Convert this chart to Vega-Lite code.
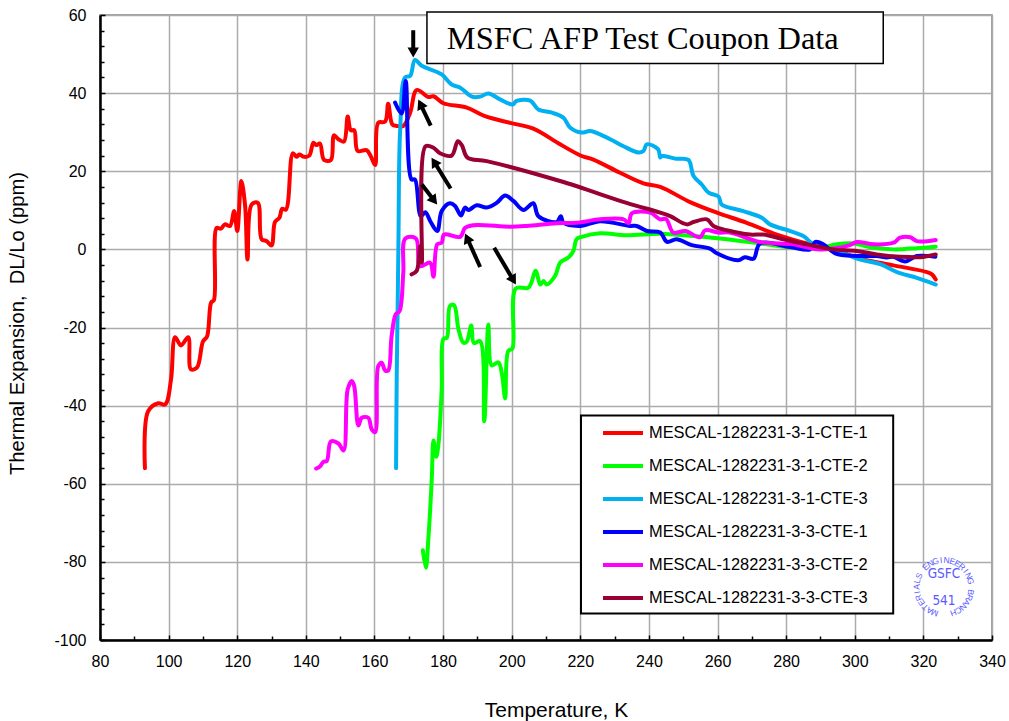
{"$schema":"https://vega.github.io/schema/vega-lite/v6.json","width":892,"height":625,"autosize":"none","padding":{"left":100,"top":15,"right":17,"bottom":81},"background":"white","config":{"font":"Liberation Sans","view":{"stroke":"#808080","strokeWidth":1.5}},"datasets":{"curves":[
{"s":"R","x":93.1,"y":-56},{"s":"R","x":94,"y":-41.5},{"s":"R","x":97,"y":-39.4},{"s":"R","x":99,"y":-39.7},{"s":"R","x":100.7,"y":-33.3},{"s":"R","x":101.9,"y":-22.5},{"s":"R","x":103.6,"y":-24.6},{"s":"R","x":105.7,"y":-22.5},{"s":"R","x":106.5,"y":-30.7},{"s":"R","x":108.3,"y":-30.2},{"s":"R","x":110,"y":-23.6},{"s":"R","x":111.2,"y":-22.3},{"s":"R","x":112.4,"y":-13.6},{"s":"R","x":113.2,"y":-13},{"s":"R","x":114,"y":5.5},{"s":"R","x":115.2,"y":5.3},{"s":"R","x":116.4,"y":6.4},{"s":"R","x":117.9,"y":6},{"s":"R","x":119.1,"y":9.8},{"s":"R","x":120,"y":4.7},{"s":"R","x":121.2,"y":17.5},{"s":"R","x":122.3,"y":11.1},{"s":"R","x":123,"y":-2.6},{"s":"R","x":124.2,"y":11.5},{"s":"R","x":126,"y":11.9},{"s":"R","x":127.1,"y":2.6},{"s":"R","x":128.6,"y":2.1},{"s":"R","x":130,"y":1},{"s":"R","x":131,"y":7},{"s":"R","x":132.3,"y":8.1},{"s":"R","x":133.1,"y":10.4},{"s":"R","x":134.2,"y":10.2},{"s":"R","x":136.2,"y":24.6},{"s":"R","x":137.3,"y":23.7},{"s":"R","x":138.1,"y":24.3},{"s":"R","x":139.5,"y":23.7},{"s":"R","x":141,"y":24},{"s":"R","x":142.2,"y":27.3},{"s":"R","x":143,"y":26.7},{"s":"R","x":144.1,"y":27.1},{"s":"R","x":145.3,"y":22.9},{"s":"R","x":147.3,"y":22.9},{"s":"R","x":148.2,"y":29.2},{"s":"R","x":149.5,"y":28.2},{"s":"R","x":151.1,"y":27.6},{"s":"R","x":152.2,"y":34},{"s":"R","x":153.1,"y":30.5},{"s":"R","x":154.1,"y":30.5},{"s":"R","x":155.1,"y":25.2},{"s":"R","x":157.7,"y":25.4},{"s":"R","x":158.9,"y":23.9},{"s":"R","x":160.2,"y":21.6},{"s":"R","x":161.1,"y":32.4},{"s":"R","x":163.1,"y":32.7},{"s":"R","x":164,"y":37.3},{"s":"R","x":165.2,"y":32},{"s":"R","x":166.5,"y":31.6},{"s":"R","x":168.4,"y":31.6},{"s":"R","x":170.4,"y":35},{"s":"R","x":172.3,"y":40.8},{"s":"R","x":175.7,"y":39},{"s":"R","x":177.2,"y":39.2},{"s":"R","x":180.1,"y":37.4},{"s":"R","x":186.9,"y":36.3},{"s":"R","x":192.2,"y":34.1},{"s":"R","x":199.5,"y":32.4},{"s":"R","x":206.3,"y":30.9},{"s":"R","x":214.1,"y":26.9},{"s":"R","x":220.4,"y":23.9},{"s":"R","x":223.8,"y":23},{"s":"R","x":231.6,"y":19.6},{"s":"R","x":238.4,"y":16.9},{"s":"R","x":243.3,"y":16},{"s":"R","x":252,"y":12.1},{"s":"R","x":259.8,"y":9.4},{"s":"R","x":268.5,"y":6.8},{"s":"R","x":277.3,"y":3.8},{"s":"R","x":287,"y":1.3},{"s":"R","x":293.7,"y":0},{"s":"R","x":301.6,"y":-2.4},{"s":"R","x":311.3,"y":-4.1},{"s":"R","x":321,"y":-5.8},{"s":"R","x":322.5,"y":-6.4},{"s":"R","x":323.6,"y":-7.7},
{"s":"G","x":174.1,"y":-77},{"s":"G","x":175,"y":-81.5},{"s":"G","x":175.7,"y":-74.2},{"s":"G","x":176.7,"y":-58.9},{"s":"G","x":177.2,"y":-48.9},{"s":"G","x":178,"y":-53.1},{"s":"G","x":178.6,"y":-50.3},{"s":"G","x":179.6,"y":-35.8},{"s":"G","x":180.1,"y":-22.9},{"s":"G","x":181.1,"y":-22.6},{"s":"G","x":182,"y":-14.5},{"s":"G","x":183.2,"y":-14.3},{"s":"G","x":184.5,"y":-20.5},{"s":"G","x":185.9,"y":-23.9},{"s":"G","x":186.9,"y":-23.6},{"s":"G","x":188.2,"y":-19.5},{"s":"G","x":189,"y":-24},{"s":"G","x":190.8,"y":-23.5},{"s":"G","x":192,"y":-44},{"s":"G","x":193.2,"y":-19.2},{"s":"G","x":194.2,"y":-29.7},{"s":"G","x":196.1,"y":-28.9},{"s":"G","x":197.1,"y":-31.6},{"s":"G","x":198.1,"y":-38.2},{"s":"G","x":199,"y":-26},{"s":"G","x":200.2,"y":-25.4},{"s":"G","x":201.2,"y":-10},{"s":"G","x":204.9,"y":-9.8},{"s":"G","x":207,"y":-5.5},{"s":"G","x":208.3,"y":-9},{"s":"G","x":209.3,"y":-8.1},{"s":"G","x":210.2,"y":-9},{"s":"G","x":212.7,"y":-6.7},{"s":"G","x":214.1,"y":-3.4},{"s":"G","x":216.5,"y":-2.1},{"s":"G","x":218,"y":-0.4},{"s":"G","x":218.9,"y":2.6},{"s":"G","x":220.4,"y":3.2},{"s":"G","x":225.8,"y":4.1},{"s":"G","x":233.5,"y":3.6},{"s":"G","x":243.3,"y":4},{"s":"G","x":252.9,"y":3.4},{"s":"G","x":262.7,"y":2.6},{"s":"G","x":272.4,"y":1.5},{"s":"G","x":282,"y":0.4},{"s":"G","x":289.9,"y":0.4},{"s":"G","x":294.8,"y":1.3},{"s":"G","x":299.6,"y":1.5},{"s":"G","x":305.4,"y":0.4},{"s":"G","x":311.3,"y":0},{"s":"G","x":318.1,"y":0.3},{"s":"G","x":323.6,"y":0.7},
{"s":"C","x":166.3,"y":-56},{"s":"C","x":166.5,"y":-31.6},{"s":"C","x":166.8,"y":-12},{"s":"C","x":167,"y":2.6},{"s":"C","x":167.5,"y":30.7},{"s":"C","x":168.9,"y":44},{"s":"C","x":170.4,"y":44.4},{"s":"C","x":171.8,"y":48.5},{"s":"C","x":173.8,"y":47},{"s":"C","x":179.6,"y":44.8},{"s":"C","x":182.5,"y":42.2},{"s":"C","x":185,"y":41.4},{"s":"C","x":188.4,"y":39.1},{"s":"C","x":190.8,"y":39.1},{"s":"C","x":193.2,"y":39.9},{"s":"C","x":196.6,"y":38.4},{"s":"C","x":200.3,"y":37.1},{"s":"C","x":201.4,"y":38},{"s":"C","x":205.4,"y":38.1},{"s":"C","x":207.8,"y":35.8},{"s":"C","x":211.7,"y":35},{"s":"C","x":215.1,"y":33.7},{"s":"C","x":217,"y":31.2},{"s":"C","x":220.4,"y":29.9},{"s":"C","x":222.9,"y":30.3},{"s":"C","x":228.7,"y":28.2},{"s":"C","x":232.6,"y":26.4},{"s":"C","x":236.9,"y":24.8},{"s":"C","x":238.4,"y":25.2},{"s":"C","x":239.4,"y":26.9},{"s":"C","x":242.7,"y":25.6},{"s":"C","x":243.3,"y":23.5},{"s":"C","x":243.8,"y":23.9},{"s":"C","x":248,"y":23.2},{"s":"C","x":251.5,"y":22.9},{"s":"C","x":253,"y":18.8},{"s":"C","x":255.4,"y":16.6},{"s":"C","x":257.4,"y":14.5},{"s":"C","x":260.3,"y":13.5},{"s":"C","x":261.2,"y":11.5},{"s":"C","x":267.5,"y":9.8},{"s":"C","x":272.9,"y":8.1},{"s":"C","x":275.3,"y":6.4},{"s":"C","x":281.2,"y":4.7},{"s":"C","x":285,"y":3.4},{"s":"C","x":288.5,"y":0.9},{"s":"C","x":293.7,"y":0},{"s":"C","x":301.6,"y":-2.6},{"s":"C","x":307.4,"y":-3.8},{"s":"C","x":312.3,"y":-5.8},{"s":"C","x":318.1,"y":-7.3},{"s":"C","x":323.6,"y":-9},
{"s":"B","x":166,"y":37.6},{"s":"B","x":167.9,"y":34.8},{"s":"B","x":169.1,"y":43.1},{"s":"B","x":170.8,"y":17.9},{"s":"B","x":171.8,"y":17.9},{"s":"B","x":173.5,"y":8.5},{"s":"B","x":174.8,"y":9.5},{"s":"B","x":176.4,"y":7},{"s":"B","x":178.3,"y":4.7},{"s":"B","x":179.6,"y":9.8},{"s":"B","x":182,"y":11.8},{"s":"B","x":183.5,"y":11.1},{"s":"B","x":185.2,"y":8.7},{"s":"B","x":186.4,"y":10.7},{"s":"B","x":187.4,"y":10.1},{"s":"B","x":189.8,"y":11.3},{"s":"B","x":192.7,"y":10.7},{"s":"B","x":195.6,"y":11.9},{"s":"B","x":198.1,"y":13.8},{"s":"B","x":200.5,"y":12.4},{"s":"B","x":203.4,"y":10.1},{"s":"B","x":206.3,"y":11.8},{"s":"B","x":207.8,"y":8.5},{"s":"B","x":213.1,"y":7},{"s":"B","x":214.3,"y":8.5},{"s":"B","x":215.1,"y":6.8},{"s":"B","x":220,"y":6},{"s":"B","x":225.8,"y":7.2},{"s":"B","x":234.5,"y":6},{"s":"B","x":236.4,"y":6},{"s":"B","x":239.4,"y":4.7},{"s":"B","x":243.3,"y":4.3},{"s":"B","x":245.3,"y":1.9},{"s":"B","x":248,"y":2.6},{"s":"B","x":252.5,"y":1.1},{"s":"B","x":257.8,"y":0.2},{"s":"B","x":259.8,"y":-1},{"s":"B","x":266,"y":-2.8},{"s":"B","x":268,"y":-2},{"s":"B","x":270.5,"y":-2.4},{"s":"B","x":272.4,"y":1.5},{"s":"B","x":281.2,"y":0.6},{"s":"B","x":287,"y":0},{"s":"B","x":288.5,"y":1.9},{"s":"B","x":290.8,"y":1.3},{"s":"B","x":294.3,"y":-1},{"s":"B","x":300.6,"y":-1.7},{"s":"B","x":306.4,"y":-1.7},{"s":"B","x":309.3,"y":-2.1},{"s":"B","x":311.2,"y":-1.9},{"s":"B","x":314.7,"y":-3.1},{"s":"B","x":318.1,"y":-1.7},{"s":"B","x":323.5,"y":-1.9},
{"s":"M","x":143,"y":-56.1},{"s":"M","x":144.1,"y":-55.6},{"s":"M","x":145.1,"y":-54.4},{"s":"M","x":146.1,"y":-54.2},{"s":"M","x":147.3,"y":-49.2},{"s":"M","x":149.5,"y":-49.7},{"s":"M","x":151,"y":-51.5},{"s":"M","x":152.2,"y":-35.8},{"s":"M","x":153.4,"y":-33.7},{"s":"M","x":154.1,"y":-35},{"s":"M","x":155.3,"y":-45.1},{"s":"M","x":156.3,"y":-43.1},{"s":"M","x":158.2,"y":-43.1},{"s":"M","x":159.2,"y":-46.1},{"s":"M","x":160.2,"y":-46.8},{"s":"M","x":161.1,"y":-29.9},{"s":"M","x":162.1,"y":-29},{"s":"M","x":163.1,"y":-31},{"s":"M","x":164,"y":-31},{"s":"M","x":165,"y":-22.2},{"s":"M","x":166.2,"y":-16.6},{"s":"M","x":167.3,"y":-15.8},{"s":"M","x":168.4,"y":-6},{"s":"M","x":169,"y":2.8},{"s":"M","x":172.1,"y":2.8},{"s":"M","x":173.3,"y":-4.3},{"s":"M","x":176.2,"y":-3.4},{"s":"M","x":177.2,"y":-7},{"s":"M","x":178.3,"y":1.3},{"s":"M","x":179.6,"y":1.7},{"s":"M","x":180.3,"y":3.8},{"s":"M","x":185,"y":3.2},{"s":"M","x":186.4,"y":5.5},{"s":"M","x":188.8,"y":6.2},{"s":"M","x":199.5,"y":5.8},{"s":"M","x":204.4,"y":6},{"s":"M","x":213.1,"y":6.7},{"s":"M","x":218.9,"y":6.8},{"s":"M","x":225.8,"y":7.7},{"s":"M","x":232.6,"y":7.7},{"s":"M","x":234.1,"y":6.7},{"s":"M","x":235,"y":9.2},{"s":"M","x":240.4,"y":9.4},{"s":"M","x":243.3,"y":7.7},{"s":"M","x":245,"y":7.8},{"s":"M","x":247.1,"y":4.3},{"s":"M","x":250.6,"y":4.7},{"s":"M","x":254.9,"y":3.1},{"s":"M","x":256.4,"y":4.9},{"s":"M","x":260.3,"y":4.3},{"s":"M","x":263.6,"y":4.3},{"s":"M","x":272.4,"y":1.9},{"s":"M","x":282,"y":1.3},{"s":"M","x":289,"y":0},{"s":"M","x":293.7,"y":0.2},{"s":"M","x":298.6,"y":1.1},{"s":"M","x":300.6,"y":1.9},{"s":"M","x":305.5,"y":1.3},{"s":"M","x":311.3,"y":1.7},{"s":"M","x":313.2,"y":3},{"s":"M","x":316.2,"y":3.1},{"s":"M","x":318.1,"y":2.1},{"s":"M","x":323.6,"y":2.4},
{"s":"D","x":170.8,"y":-6.4},{"s":"D","x":172.3,"y":-5.5},{"s":"D","x":173.3,"y":0.8},{"s":"D","x":173.8,"y":-3.4},{"s":"D","x":174.9,"y":26.4},{"s":"D","x":177.2,"y":26},{"s":"D","x":179.1,"y":24.6},{"s":"D","x":182.5,"y":24},{"s":"D","x":184.3,"y":27.7},{"s":"D","x":185.5,"y":26.6},{"s":"D","x":187.1,"y":23.5},{"s":"D","x":192.7,"y":22.6},{"s":"D","x":214.1,"y":17.5},{"s":"D","x":233.5,"y":11.9},{"s":"D","x":243.3,"y":9.4},{"s":"D","x":246.2,"y":8.5},{"s":"D","x":251,"y":6.4},{"s":"D","x":253,"y":7},{"s":"D","x":256.9,"y":7.7},{"s":"D","x":258.8,"y":6},{"s":"D","x":262.7,"y":4.9},{"s":"D","x":269.5,"y":3.8},{"s":"D","x":273.4,"y":3.8},{"s":"D","x":279.2,"y":2.6},{"s":"D","x":287,"y":1.1},{"s":"D","x":293.7,"y":0},{"s":"D","x":300.6,"y":-0.4},{"s":"D","x":306.4,"y":-1.3},{"s":"D","x":313.2,"y":-1.9},{"s":"D","x":319,"y":-2},{"s":"D","x":323.6,"y":-1.3}
],"names":[{"s":"R","n":"MESCAL-1282231-3-1-CTE-1"},{"s":"G","n":"MESCAL-1282231-3-1-CTE-2"},{"s":"C","n":"MESCAL-1282231-3-1-CTE-3"},{"s":"B","n":"MESCAL-1282231-3-3-CTE-1"},{"s":"M","n":"MESCAL-1282231-3-3-CTE-2"},{"s":"D","n":"MESCAL-1282231-3-3-CTE-3"}],
"arrows":[{"x":171.3,"y":56.1,"hx":171.3,"hy":50.4,"heading":180},{"x":176.4,"y":31.7,"hx":173.4,"hy":37.2,"heading":334.5},{"x":182.2,"y":15.6,"hx":177.4,"hy":22.4,"heading":328},{"x":173.8,"y":16.6,"hx":177.4,"hy":12.5,"heading":142},{"x":190.8,"y":-4.5,"hx":187,"hy":2.9,"heading":336},{"x":194.9,"y":0.4,"hx":200.5,"hy":-7.9,"heading":149.4}],
"stampChars":[{"c":"M","x":323.26,"y":-93.08,"a":-160},{"c":"A","x":321.78,"y":-92.45,"a":-148.15},{"c":"T","x":320.47,"y":-91.56,"a":-136.3},{"c":"E","x":319.4,"y":-90.46,"a":-124.45},{"c":"R","x":318.62,"y":-89.19,"a":-112.6},{"c":"I","x":318.14,"y":-87.81,"a":-100.75},{"c":"A","x":318,"y":-86.37,"a":-88.9},{"c":"L","x":318.2,"y":-84.93,"a":-77.05},{"c":"S","x":318.74,"y":-83.57,"a":-65.2},{"c":"E","x":320.68,"y":-81.27,"a":-41.65},{"c":"N","x":322.02,"y":-80.42,"a":-29.8},{"c":"G","x":323.54,"y":-79.84,"a":-17.95},{"c":"I","x":325.15,"y":-79.54,"a":-6.1},{"c":"N","x":326.8,"y":-79.53,"a":5.75},{"c":"E","x":328.42,"y":-79.83,"a":17.6},{"c":"E","x":329.94,"y":-80.4,"a":29.45},{"c":"R","x":331.28,"y":-81.24,"a":41.3},{"c":"I","x":332.4,"y":-82.3,"a":53.15},{"c":"N","x":333.25,"y":-83.54,"a":65},{"c":"G","x":333.79,"y":-84.91,"a":76.85},{"c":"B","x":333.86,"y":-87.77,"a":100.5},{"c":"R","x":333.4,"y":-89.16,"a":112.35},{"c":"A","x":332.62,"y":-90.43,"a":124.2},{"c":"N","x":331.56,"y":-91.53,"a":136},{"c":"C","x":330.25,"y":-92.43,"a":147.9},{"c":"H","x":328.78,"y":-93.07,"a":159.7}]},
"layer":[
{"data":{"name":"curves"},"transform":[{"lookup":"s","from":{"data":{"name":"names"},"key":"s","fields":["n"]}}],"mark":{"type":"line","strokeWidth":4,"strokeCap":"round","strokeJoin":"round","clip":false,"interpolate":"catmull-rom"},"encoding":{
"x":{"field":"x","type":"quantitative","scale":{"domain":[80,340],"nice":false,"zero":false},"axis":{"title":"Temperature, K","titleFontSize":21,"titleFontWeight":"normal","titleColor":"#000","titleY":59,"titleX":456,"tickCount":100,"values":[80,90,100,110,120,130,140,150,160,170,180,190,200,210,220,230,240,250,260,270,280,290,300,310,320,330,340],"labelExpr":"datum.value % 20 === 0 ? datum.label : ''","labelFontSize":16,"labelColor":"#000","labelPadding":18,"labelOverlap":false,"labelFlush":false,"domainColor":"#000","domainWidth":2.5,"tickColor":"#000","tickWidth":1.5,"tickSize":{"condition":{"test":"datum.value % 20 === 0","value":-5},"value":-4},"tickCap":"butt","grid":true,"gridColor":"#ababab","gridWidth":1.5,"gridOpacity":{"condition":{"test":"datum.value % 20 === 0","value":1},"value":0}}},
"y":{"field":"y","type":"quantitative","scale":{"domain":[-100,60],"nice":false,"zero":false},"axis":{"title":"Thermal Expansion,\u00a0 DL/Lo (ppm)","titleFontSize":20.2,"titleFontWeight":"normal","titleColor":"#000","titleX":-73,"titleY":308,"tickCount":100,"values":[-100,-96,-92,-88,-84,-80,-76,-72,-68,-64,-60,-56,-52,-48,-44,-40,-36,-32,-28,-24,-20,-16,-12,-8,-4,0,4,8,12,16,20,24,28,32,36,40,44,48,52,56,60],"labelExpr":"datum.value % 20 === 0 ? '' + datum.value : ''","labelFontSize":16,"labelColor":"#000","labelPadding":19,"labelOverlap":false,"domainColor":"#000","domainWidth":2.5,"tickColor":"#000","tickWidth":1.5,"tickSize":{"condition":{"test":"datum.value % 20 === 0","value":-5},"value":-4},"grid":true,"gridColor":"#ababab","gridWidth":1.5,"gridOpacity":{"condition":{"test":"datum.value % 20 === 0","value":1},"value":0}}},
"color":{"field":"n","type":"nominal","scale":{"domain":["MESCAL-1282231-3-1-CTE-1","MESCAL-1282231-3-1-CTE-2","MESCAL-1282231-3-1-CTE-3","MESCAL-1282231-3-3-CTE-1","MESCAL-1282231-3-3-CTE-2","MESCAL-1282231-3-3-CTE-3"],"range":["#ff0000","#00ff00","#00b0f0","#0000ff","#ff00ff","#990033"]},"legend":{"title":null,"orient":"none","legendX":481,"legendY":400,"symbolType":"M-2,0H2","symbolSize":400,"symbolStrokeWidth":4,"symbolOffset":24,"labelFontSize":16.4,"labelColor":"#000","labelLimit":320,"rowPadding":12,"padding":6,"labelOffset":14,"offset":0}},
"order":null}},
{"data":{"values":[{"x":220.2,"x2":311.2,"y":-42.5,"y2":-93.2}]},"mark":{"type":"rect","fill":"#fff","stroke":"#000","strokeWidth":2},"encoding":{"x":{"field":"x","type":"quantitative"},"x2":{"field":"x2"},"y":{"field":"y","type":"quantitative"},"y2":{"field":"y2"}}},
{"data":{"name":"arrows"},"mark":{"type":"rule","strokeWidth":4,"color":"#000"},"encoding":{"x":{"field":"x","type":"quantitative"},"y":{"field":"y","type":"quantitative"},"x2":{"field":"hx"},"y2":{"field":"hy"}}},
{"data":{"name":"arrows"},"mark":{"type":"point","shape":"triangle-up","filled":true,"color":"#000","size":130,"opacity":1},"encoding":{"x":{"field":"hx","type":"quantitative"},"y":{"field":"hy","type":"quantitative"},"angle":{"field":"heading","type":"quantitative","scale":null}}},
{"data":{"values":[{"x":175.3,"x2":308.3,"y":60.8,"y2":47.6}]},"mark":{"type":"rect","fill":"#fff","stroke":"#000","strokeWidth":1.5},"encoding":{"x":{"field":"x","type":"quantitative"},"x2":{"field":"x2"},"y":{"field":"y","type":"quantitative"},"y2":{"field":"y2"}}},
{"data":{"values":[{"x":181.1,"y":53.8,"t":"MSFC AFP Test Coupon Data"}]},"mark":{"type":"text","align":"left","baseline":"middle","font":"Liberation Serif","fontSize":32.4,"color":"#000"},"encoding":{"x":{"field":"x","type":"quantitative"},"y":{"field":"y","type":"quantitative"},"text":{"field":"t"}}},
{"data":{"values":[{"x":326,"y":-86.5}]},"mark":{"type":"point","shape":"circle","filled":true,"color":"#fff","opacity":1,"size":3300},"encoding":{"x":{"field":"x","type":"quantitative"},"y":{"field":"y","type":"quantitative"}}},
{"data":{"name":"stampChars"},"mark":{"type":"text","align":"center","baseline":"middle","fontSize":8.5,"color":"#5a5aff"},"encoding":{"x":{"field":"x","type":"quantitative"},"y":{"field":"y","type":"quantitative"},"text":{"field":"c"},"angle":{"field":"a","type":"quantitative","scale":null}}},
{"data":{"values":[{"x":326,"y":-83,"t":"GSFC"},{"x":326,"y":-89.9,"t":"541"}]},"mark":{"type":"text","align":"center","baseline":"middle","font":"DejaVu Sans Condensed","fontSize":13.5,"color":"#5a5aff"},"encoding":{"x":{"field":"x","type":"quantitative"},"y":{"field":"y","type":"quantitative"},"text":{"field":"t"}}}
]}
